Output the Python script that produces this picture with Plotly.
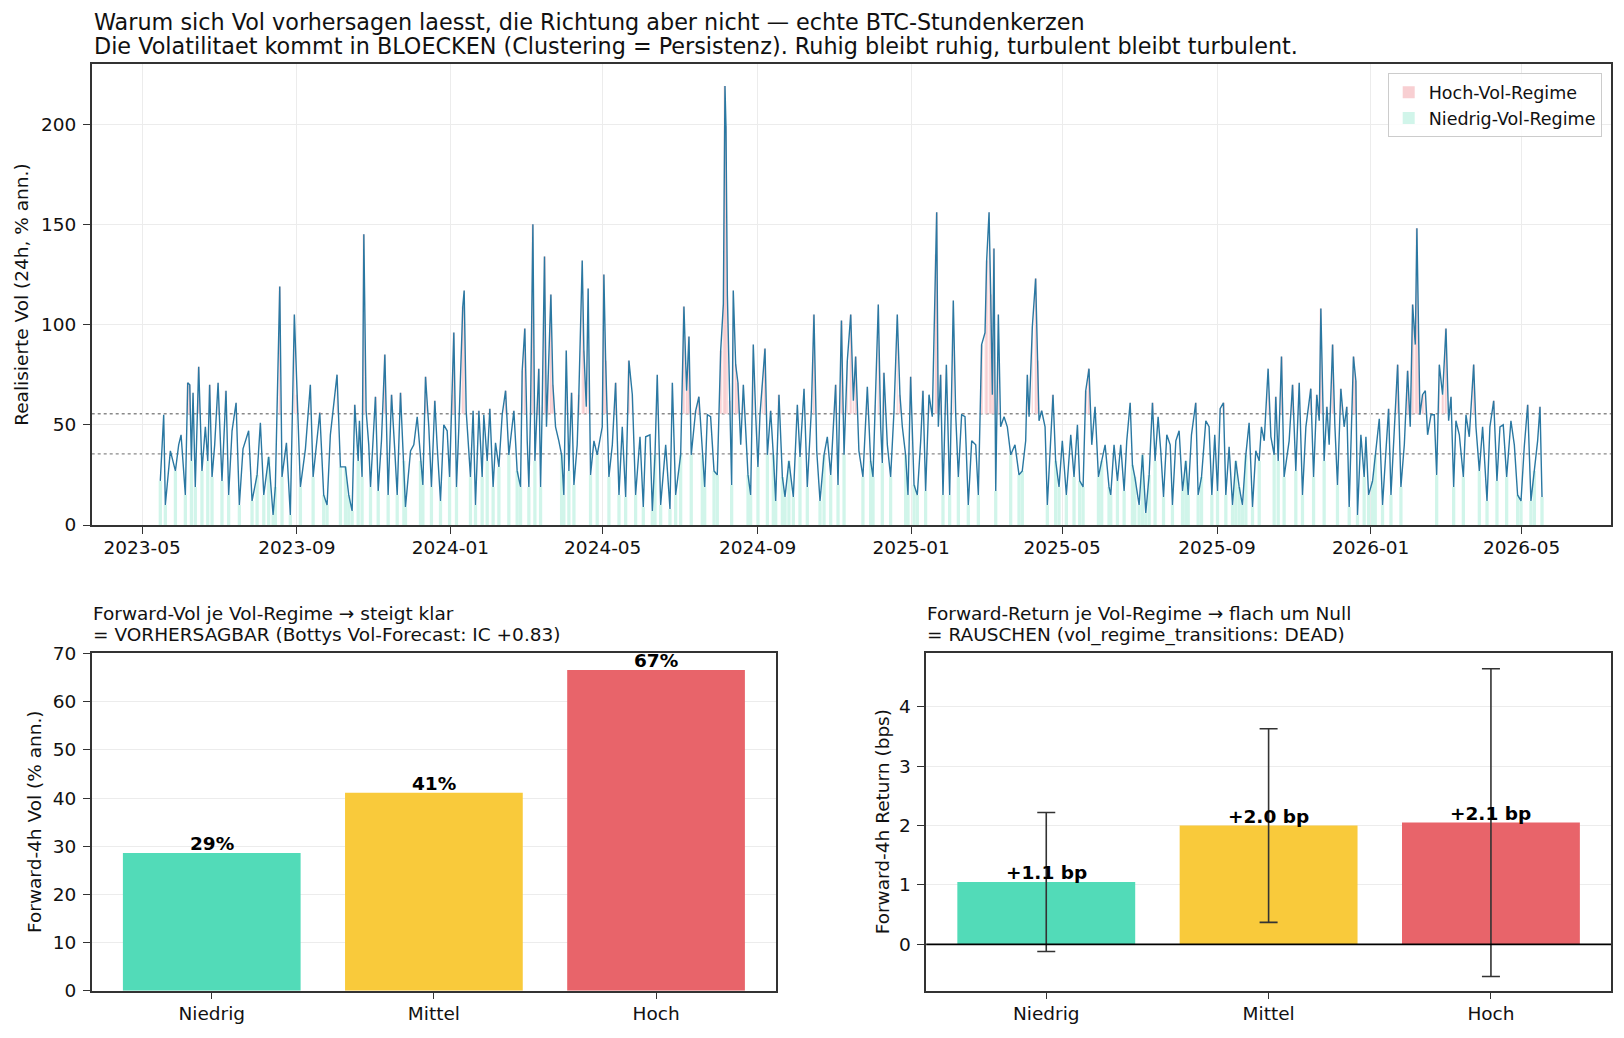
import pandas as pd
import plotly.graph_objects as go

# ---------------- data ----------------
start_datum = "2023-05-01"   # day offsets below are counted from this date

tage = [
    14.5, 17.2, 18.5, 22.5, 26.5, 29.1, 31.0, 34.4, 36.3, 37.9,
    39.2, 40.5, 42.3, 45.0, 47.6, 50.3, 52.2, 53.7, 55.6, 57.7,
    60.4, 63.5, 66.7, 68.8, 71.5, 74.7, 77.3, 80.2, 84.7, 87.4,
    91.4, 94.0, 96.7, 100.6, 104.1, 105.9, 109.4, 111.2, 114.7, 117.8,
    121.0, 123.1, 125.8, 129.8, 133.7, 135.9, 141.2, 144.3, 147.0, 149.6,
    154.9, 157.6,
    161.6, 164.2, 166.9, 169.0, 171.7, 172.7, 174.8, 176.2, 178.0, 180.1,
    181.5, 185.4, 187.6, 190.2, 192.9, 195.5, 198.2, 200.8, 202.7, 205.3,
    208.0, 209.3, 213.3, 215.9, 218.6, 221.2, 223.1, 225.2, 227.8, 229.9,
    232.6, 234.4, 237.1, 239.7, 242.4, 244.3, 246.4, 247.7, 249.8, 251.7,
    254.8, 255.9, 257.5, 260.9, 263.0, 264.9, 267.6, 270.2, 271.5, 274.2,
    276.3, 278.9, 280.8, 283.5, 286.1, 288.8, 291.4, 295.4, 298.0, 300.7,
    302.0, 304.1, 306.0, 307.3, 308.6, 310.5, 312.1, 313.9, 315.2, 316.6,
    317.9, 319.7, 321.3, 322.7, 324.8, 326.4, 328.5, 331.1, 333.3, 335.1,
    337.0, 339.1, 341.2, 343.1, 345.7, 347.0, 349.7, 351.0, 352.9, 354.4,
    356.3, 359.0, 361.6, 365.6, 366.9,
    368.3, 369.6, 370.9, 373.6, 376.2, 378.9, 381.5, 384.2, 386.8, 389.5,
    392.1, 395.6, 398.2, 400.1, 403.5, 405.4, 407.5, 409.3, 412.0, 416.0,
    419.4, 421.3, 423.9, 427.9, 430.5, 432.6, 434.5, 436.3, 439.8, 442.4,
    445.1, 447.0, 449.1, 451.7, 454.4, 457.0, 459.7, 461.8, 463.1, 463.9,
    465.0, 467.1, 468.4, 469.7, 471.6, 473.4, 475.6, 477.7, 479.5, 481.4,
    483.5, 485.6, 487.5, 489.3, 490.9, 492.8, 494.9, 496.8, 499.4, 501.5,
    503.4, 506.0, 508.7, 510.8, 513.9, 517.4, 520.6, 522.7, 525.9, 528.5,
    531.7, 533.8, 536.0, 538.6, 541.8, 544.4, 547.1, 551.0, 552.9, 555.6,
    557.7, 560.3, 563.0, 565.1,
    566.9, 569.5, 572.7, 576.2, 578.8, 580.7, 582.3, 584.9, 586.8, 588.1,
    589.4, 592.1, 594.7, 597.4, 600.0, 602.1, 604.0, 606.6, 608.5, 610.6,
    613.3, 615.9, 618.6, 620.4, 622.5, 625.2, 627.8, 630.5, 631.3, 632.6,
    634.4, 636.3, 639.0, 641.6, 644.5, 646.4, 648.5, 651.1, 653.8, 656.4,
    659.1, 662.3, 664.4, 667.0, 669.7, 671.0, 672.9, 674.2, 675.5, 676.8,
    678.2, 680.3, 682.1, 684.8, 687.4, 690.1, 693.5, 696.7, 699.3, 702.0,
    703.3, 704.7, 707.3, 709.9, 711.3, 712.6, 714.7, 717.4, 719.2, 721.9,
    723.7, 725.8, 728.5, 731.1, 734.3, 737.8, 740.4, 743.1, 744.9, 747.6,
    749.7, 752.3, 754.5, 757.1, 759.8, 762.4, 765.1, 768.2,
    769.6, 772.2, 774.9, 777.5, 780.2, 782.3, 785.0, 786.8, 788.7, 792.1,
    794.8, 797.4, 800.1, 802.7, 804.8, 807.2, 809.3, 811.5, 814.1, 816.8,
    818.6, 821.3, 823.9, 826.6, 829.2, 831.1, 833.7, 837.1, 839.0, 841.7,
    845.1, 847.7, 849.9, 852.2, 854.4, 856.5, 859.1, 861.0, 863.6, 866.3,
    868.9, 871.6, 874.2, 876.9, 879.5, 882.2, 884.8, 887.5, 889.3, 891.5,
    894.6, 896.8, 899.4, 900.7, 902.6, 905.2, 907.3, 911.3, 914.0, 916.6,
    919.3, 921.9, 924.6, 928.5, 930.7, 933.3, 935.2, 936.5, 939.1, 941.3,
    943.1, 945.8, 947.6, 949.7, 952.4, 955.0, 957.1, 959.0, 962.4, 964.3,
    965.6, 968.3, 970.9,
    972.3, 974.4, 977.6, 979.7, 982.9, 985.5, 988.2, 990.3, 992.2, 994.8,
    997.5, 1000.1, 1002.8, 1005.4, 1007.5, 1009.4, 1011.5, 1012.8, 1013.9, 1015.2,
    1017.3, 1019.5, 1021.3, 1024.0, 1026.6, 1028.5, 1030.6, 1033.2, 1035.9, 1038.0,
    1039.9, 1042.0, 1043.8, 1046.5, 1049.7, 1051.8, 1054.4, 1057.9, 1059.7, 1062.4,
    1065.0, 1068.5, 1070.8, 1073.8, 1076.4, 1078.8, 1081.4, 1084.1, 1087.5, 1090.2,
    1092.8, 1095.5, 1098.1, 1100.8, 1103.4, 1106.1, 1108.7, 1110.6, 1112.2,
]

vol = [
    22, 55, 10, 37, 27, 40, 45, 15, 71, 70,
    32, 66, 19, 79, 27, 49, 32, 70, 24, 40,
    71, 22, 67, 15, 47, 61, 10, 38, 47, 12,
    25, 51, 15, 34, 5, 19, 119, 24, 41, 5,
    105, 65, 19, 38, 70, 24, 56, 15, 10, 45,
    75, 29,
    29, 15, 7, 60, 32, 52, 24, 145, 57, 40,
    19, 64, 17, 42, 85, 15, 65, 37, 15, 66,
    32, 9, 37, 40, 54, 32, 20, 74, 49, 19,
    62, 40, 12, 50, 47, 24, 65, 96, 19, 49,
    109, 117, 57, 24, 57, 10, 57, 24, 55, 32,
    58, 19, 41, 29, 55, 67, 35, 57, 27, 19,
    77, 98, 42, 19, 55, 150, 32, 59, 78, 19,
    59, 134, 49, 75, 115, 70, 49, 42, 35, 15,
    87, 27, 66, 20, 40, 65, 132, 87, 59, 118,
    25, 42, 35, 49, 125,
    82, 57, 24, 40, 71, 15, 49, 14, 82, 65,
    15, 44, 9, 44, 45, 7, 35, 75, 10, 40,
    8, 71, 15, 35, 109, 67, 94, 35, 57, 64,
    35, 19, 55, 54, 27, 25, 87, 110, 219, 199,
    115, 62, 20, 117, 80, 71, 40, 70, 45, 25,
    15, 90, 55, 29, 55, 70, 88, 35, 57, 35,
    12, 65, 24, 14, 32, 14, 60, 34, 68, 19,
    57, 105, 37, 12, 35, 44, 25, 70, 20, 102,
    35, 82, 105, 62,
    84, 37, 24, 69, 32, 24, 60, 110, 49, 31,
    76, 40, 24, 57, 105, 65, 49, 35, 15, 74,
    20, 15, 42, 67, 17, 65, 54, 135, 156, 49,
    75, 15, 80, 15, 112, 55, 24, 55, 54, 10,
    42, 40, 15, 90, 96, 132, 156, 115, 65, 138,
    17, 105, 49, 54, 49, 35, 40, 25, 27, 42,
    75, 54, 99, 123, 82, 52, 57, 49, 10, 44,
    65, 32, 19, 42, 15, 45, 24, 50, 22, 19,
    67, 78, 40, 59, 24, 32, 40, 19,
    15, 40, 22, 40, 17, 42, 61, 30, 24, 10,
    35, 6, 25, 61, 32, 54, 37, 14, 45, 40,
    10, 42, 47, 17, 32, 15, 45, 61, 15, 24,
    52, 49, 15, 45, 17, 58, 61, 15, 39, 10,
    32, 19, 10, 35, 51, 9, 37, 32, 49, 42,
    78, 44, 35, 64, 32, 84, 24, 42, 70, 27,
    71, 15, 49, 68, 24, 65, 52, 108, 32, 59,
    40, 90, 50, 20, 68, 49, 59, 9, 84, 72,
    5, 45, 24,
    44, 15, 22, 35, 53, 10, 40, 58, 15, 49,
    80, 19, 40, 77, 49, 110, 90, 148, 99, 55,
    65, 67, 45, 55, 55, 25, 80, 65, 98, 52,
    64, 19, 52, 45, 24, 55, 44, 80, 49, 27,
    49, 12, 49, 62, 22, 49, 50, 24, 52, 40,
    15, 12, 39, 60, 12, 27, 42, 59, 14,
]
assert len(tage) == len(vol)

schwelle_niedrig = 35.5   # lower regime threshold (dotted line)
schwelle_hoch = 55.5      # upper regime threshold (dotted line)

regime = ["Niedrig", "Mittel", "Hoch"]
fwd_vol = [28.6, 41.1, 66.6]
fwd_vol_text = ["29%", "41%", "67%"]
fwd_ret = [1.05, 2.00, 2.05]
fwd_ret_err = [1.17, 1.63, 2.59]
fwd_ret_text = ["+1.1 bp", "+2.0 bp", "+2.1 bp"]

titel_oben = ["Warum sich Vol vorhersagen laesst, die Richtung aber nicht — echte BTC-Stundenkerzen",
              "Die Volatilitaet kommt in BLOECKEN (Clustering = Persistenz). Ruhig bleibt ruhig, turbulent bleibt turbulent."]
titel_links = ["Forward-Vol je Vol-Regime → steigt klar",
               "= VORHERSAGBAR (Bottys Vol-Forecast: IC +0.83)"]
titel_rechts = ["Forward-Return je Vol-Regime → flach um Null",
                "= RAUSCHEN (vol_regime_transitions: DEAD)"]

# ---------------- styling ----------------
W, H = 1624, 1038
FONT = "DejaVu Sans"
C_LINE = "#2a78a2"
C_LOW_FILL = "#d1f5ea"
C_HIGH_FILL = "#f8cfd2"
C_BARS = ["#52dbb8", "#f9ca3b", "#e8646a"]
C_AXIS = "#333333"
C_GRID = "#ececec"
TICK = 18.5

def px_x(v):
    return v / W

def px_y(v):
    return 1 - v / H

dates = pd.Timestamp(start_datum) + pd.to_timedelta(tage, unit="D")

low_x = [d for d, v in zip(dates, vol) if v < schwelle_niedrig]
low_y = [v for v in vol if v < schwelle_niedrig]
high_x = [d for d, v in zip(dates, vol) if v > schwelle_hoch]
high_y = [v - schwelle_hoch for v in vol if v > schwelle_hoch]

DAY_MS = 86400000

fig = go.Figure()

fig.add_trace(go.Bar(
    x=low_x, y=low_y, width=2.6 * DAY_MS, marker=dict(color=C_LOW_FILL, line=dict(width=0)),
    name="Niedrig-Vol-Regime", legendrank=2, xaxis="x", yaxis="y", hoverinfo="skip"))
fig.add_trace(go.Bar(
    x=high_x, y=high_y, base=schwelle_hoch, width=0.5 * DAY_MS,
    marker=dict(color=C_HIGH_FILL, line=dict(width=0)),
    name="Hoch-Vol-Regime", legendrank=1, xaxis="x", yaxis="y", hoverinfo="skip"))
fig.add_trace(go.Scatter(
    x=dates, y=vol, mode="lines", line=dict(color=C_LINE, width=1.4),
    showlegend=False, xaxis="x", yaxis="y", hoverinfo="skip"))

fig.add_trace(go.Bar(
    x=regime, y=fwd_vol, width=0.8, marker=dict(color=C_BARS, line=dict(width=0)),
    showlegend=False, xaxis="x2", yaxis="y2"))
fig.add_trace(go.Bar(
    x=regime, y=fwd_ret, width=0.8, marker=dict(color=C_BARS, line=dict(width=0)),
    error_y=dict(type="data", array=fwd_ret_err, color=C_AXIS, thickness=1.6, width=9),
    showlegend=False, xaxis="x3", yaxis="y3"))

common_axis = dict(
    showline=True, linecolor=C_AXIS, linewidth=1.5, mirror=True,
    ticks="outside", ticklen=7, tickwidth=1.3, tickcolor=C_AXIS,
    tickfont=dict(family=FONT, size=TICK, color="#111"),
    zeroline=False, automargin=False,
)
x_extra = dict(ticklabelstandoff=-2)
y_extra = dict(ticklabelstandoff=3)

top_dom_x = [px_x(91.7), px_x(1611)]
top_dom_y = [px_y(525), px_y(64)]
bl_dom_x = [px_x(91.8), px_x(776)]
br_dom_x = [px_x(926.2), px_x(1611)]
bot_dom_y = [px_y(990.7), px_y(652.7)]

fig.update_layout(
    width=W, height=H,
    margin=dict(l=0, r=0, t=0, b=0, pad=0, autoexpand=False),
    paper_bgcolor="white", plot_bgcolor="white",
    barmode="overlay",
    font=dict(family=FONT, size=TICK, color="#111"),
    xaxis=dict(common_axis, **x_extra, domain=top_dom_x, anchor="y", type="date",
               range=["2023-03-22", "2026-07-11"], tick0="2023-05-01", dtick="M4",
               tickformat="%Y-%m", showgrid=True, gridcolor=C_GRID, gridwidth=1),
    yaxis=dict(common_axis, **y_extra, domain=top_dom_y, anchor="x", range=[0, 230],
               tick0=0, dtick=50, showgrid=True, gridcolor=C_GRID, gridwidth=1),
    xaxis2=dict(common_axis, **x_extra, domain=bl_dom_x, anchor="y2", type="category",
                range=[-0.54, 2.54], showgrid=False),
    yaxis2=dict(common_axis, **y_extra, domain=bot_dom_y, anchor="x2", range=[0, 70.2],
                tick0=0, dtick=10, showgrid=True, gridcolor=C_GRID),
    xaxis3=dict(common_axis, **x_extra, domain=br_dom_x, anchor="y3", type="category",
                range=[-0.54, 2.54], showgrid=False),
    yaxis3=dict(common_axis, **y_extra, domain=bot_dom_y, anchor="x3", range=[-0.78, 4.91],
                tick0=0, dtick=1, showgrid=True, gridcolor=C_GRID),
    legend=dict(x=px_x(1601.7), y=px_y(73.3), xanchor="right", yanchor="top",
                bgcolor="rgba(255,255,255,0.85)", bordercolor="#cccccc", borderwidth=1,
                font=dict(family=FONT, size=17.5, color="#111"), tracegroupgap=0),
)

shapes = []
for s in (schwelle_niedrig, schwelle_hoch):
    shapes.append(dict(type="line", xref="x domain", yref="y", x0=0, x1=1, y0=s, y1=s,
                       line=dict(color="#8a8a8a", width=1.3, dash="dot"), layer="below"))
shapes.append(dict(type="line", xref="x3 domain", yref="y3", x0=0, x1=1, y0=0, y1=0,
                   line=dict(color="black", width=1.8), layer="above"))
fig.update_layout(shapes=shapes)

ann = []

def title_line(text, x_px, yc_px, size):
    return dict(xref="paper", yref="paper", x=px_x(x_px), y=px_y(yc_px),
                xanchor="left", yanchor="middle", text=text, align="left",
                showarrow=False, borderpad=0, font=dict(family=FONT, size=size, color="#111"))

ann.append(title_line(titel_oben[0], 93, 22.0, 22.3))
ann.append(title_line(titel_oben[1], 93, 46.0, 22.3))
ann.append(title_line(titel_links[0], 91.8, 613.0, TICK))
ann.append(title_line(titel_links[1], 91.8, 634.5, TICK))
ann.append(title_line(titel_rechts[0], 926.2, 613.0, TICK))
ann.append(title_line(titel_rechts[1], 926.2, 634.5, TICK))

# axis titles
ann.append(dict(xref="paper", yref="paper", x=px_x(21.3), y=px_y(294.5), xanchor="center", yanchor="middle",
                text="Realisierte Vol (24h, % ann.)", textangle=-90, showarrow=False,
                font=dict(family=FONT, size=TICK, color="#111")))
ann.append(dict(xref="paper", yref="paper", x=px_x(34.3), y=px_y(821.7), xanchor="center", yanchor="middle",
                text="Forward-4h Vol (% ann.)", textangle=-90, showarrow=False,
                font=dict(family=FONT, size=TICK, color="#111")))
ann.append(dict(xref="paper", yref="paper", x=px_x(882.6), y=px_y(821.7), xanchor="center", yanchor="middle",
                text="Forward-4h Return (bps)", textangle=-90, showarrow=False,
                font=dict(family=FONT, size=TICK, color="#111")))
# bar value labels
for r, v, t in zip(regime, fwd_vol, fwd_vol_text):
    ann.append(dict(xref="x2", yref="y2", x=r, y=v, xanchor="center", yanchor="bottom",
                    text="<b>" + t + "</b>", showarrow=False, borderpad=0, yshift=-2,
                    font=dict(family=FONT, size=TICK, color="black")))
for r, v, t in zip(regime, fwd_ret, fwd_ret_text):
    ann.append(dict(xref="x3", yref="y3", x=r, y=v, xanchor="center", yanchor="bottom",
                    text="<b>" + t + "</b>", showarrow=False, borderpad=0, yshift=-2,
                    font=dict(family=FONT, size=TICK, color="black")))
fig.update_layout(annotations=ann)

fig.write_html("out.html")
